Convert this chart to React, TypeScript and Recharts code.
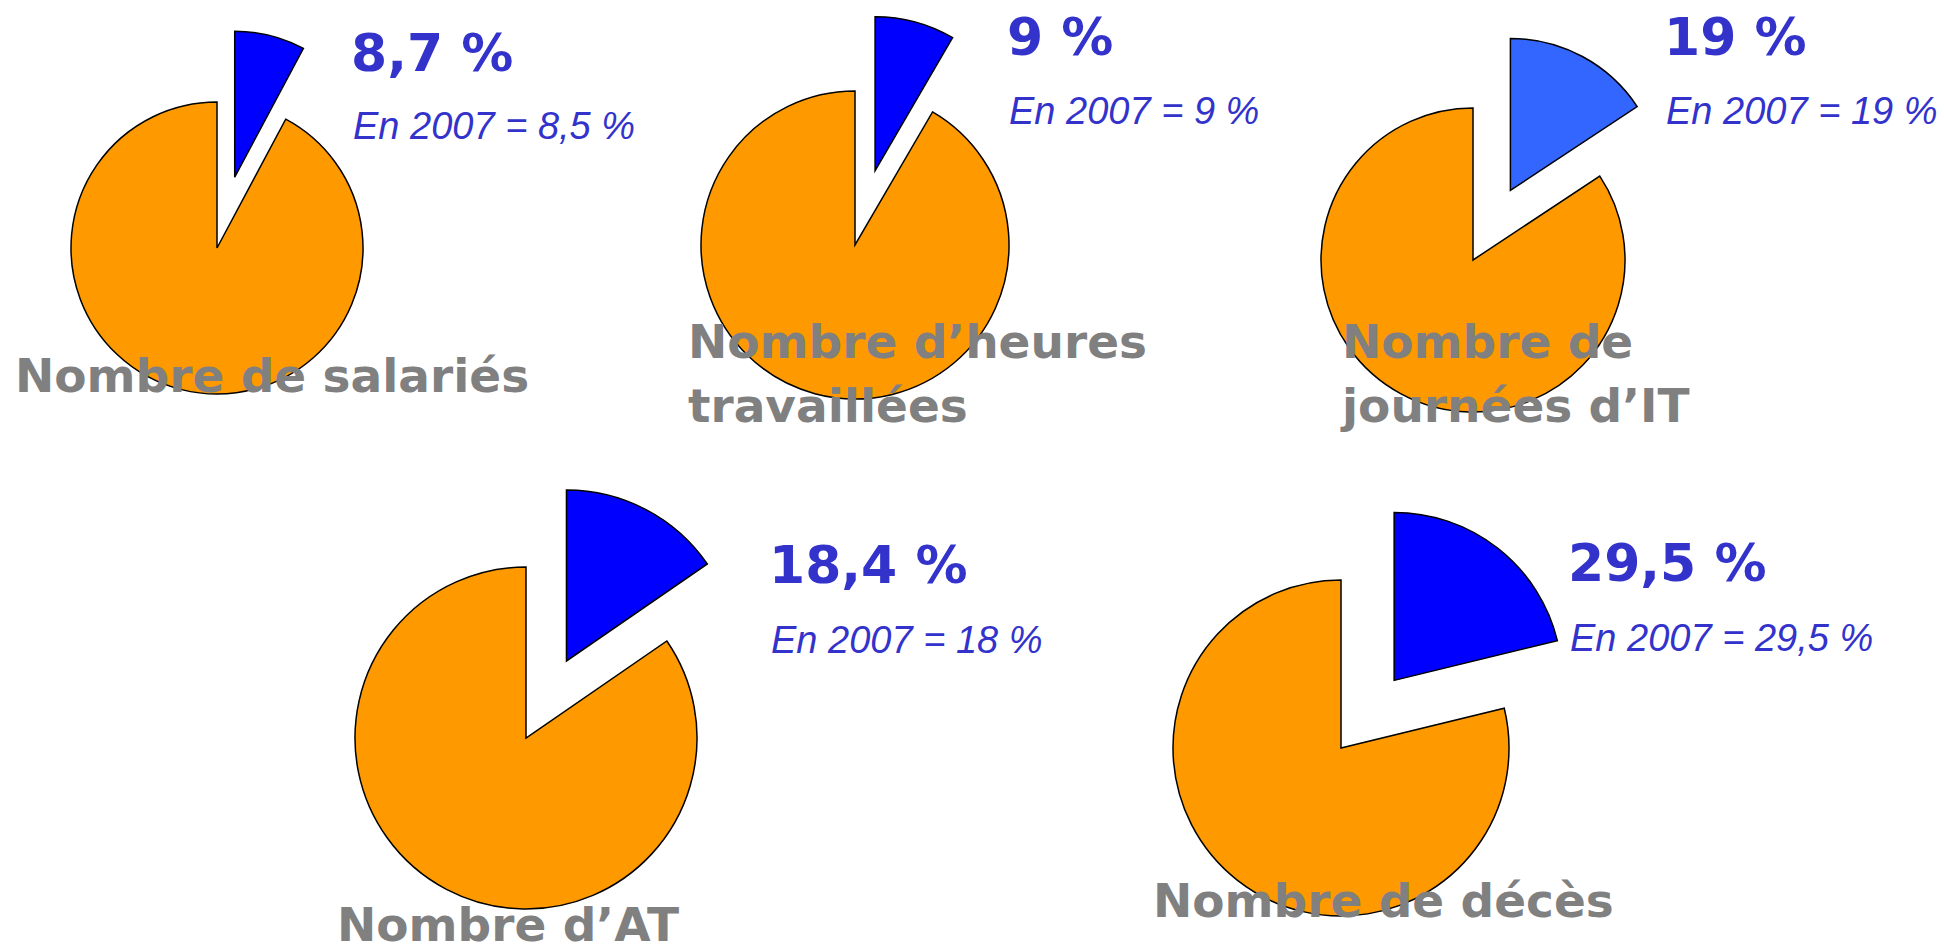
import React from 'react';
import { PieChart, Pie, Cell } from 'recharts';

// share of the blue slice as drawn in each pie (the rest is orange)
const sliceShare = [7.8, 8.4, 15.7, 15.4, 21.2];
const currentRate = ['8,7 %', '9 %', '19 %', '18,4 %', '29,5 %'];
const rate2007 = ['En 2007 = 8,5 %', 'En 2007 = 9 %', 'En 2007 = 19 %', 'En 2007 = 18 %', 'En 2007 = 29,5 %'];
const categoryLines = [
  ['Nombre de salariés'],
  ['Nombre d’heures', 'travaillées'],
  ['Nombre de', 'journées d’IT'],
  ['Nombre d’AT'],
  ['Nombre de décès'],
];
const sliceColors = ['#0000FF', '#0000FF', '#3366FF', '#0000FF', '#0000FF'];

const ORANGE = '#FF9900';
const TEXT_BLUE = '#3333CC';
const GRAY = '#808080';

// where each pie and its texts sit on the page
const layout = [
  { cx: 217, cy: 248, r: 146, pull: 73, tx: 351, rateY: 71, subY: 139, nameX: 15, nameY: [392] },
  { cx: 855, cy: 245, r: 154, pull: 77, tx: 1007, rateY: 55, subY: 124, nameX: 688, nameY: [358, 422] },
  { cx: 1473, cy: 260, r: 152, pull: 79, tx: 1664, rateY: 55, subY: 124, nameX: 1342, nameY: [358, 422] },
  { cx: 526, cy: 738, r: 171, pull: 87, tx: 769, rateY: 583, subY: 653, nameX: 337, nameY: [941] },
  { cx: 1341, cy: 748, r: 168, pull: 86, tx: 1568, rateY: 581, subY: 651, nameX: 1153, nameY: [917] },
];

const W = 1944;
const H = 951;

export default function App() {
  return (
    <div style={{ position: 'absolute', left: 0, top: 0, width: W, height: H, background: '#fff' }}>
      <PieChart width={W} height={H} margin={{ top: 0, right: 0, bottom: 0, left: 0 }}>
        {sliceShare.map((share, i) => {
          const p = layout[i];
          const data = [
            { name: 'part', value: share },
            { name: 'reste', value: 100 - share },
          ];
          const mid = ((90 - share * 1.8) * Math.PI) / 180;
          const bx = p.cx + p.pull * Math.cos(mid);
          const by = p.cy - p.pull * Math.sin(mid);
          return [
            <Pie
              key={'o' + i}
              data={data}
              dataKey="value"
              cx={p.cx}
              cy={p.cy}
              outerRadius={p.r}
              startAngle={90}
              endAngle={-270}
              labelLine={false}
              isAnimationActive={false}
            >
              <Cell fill="none" stroke="none" />
              <Cell fill={ORANGE} stroke="#000" strokeWidth={1.5} />
            </Pie>,
            <Pie
              key={'b' + i}
              data={data}
              dataKey="value"
              cx={bx}
              cy={by}
              outerRadius={p.r}
              startAngle={90}
              endAngle={-270}
              labelLine={false}
              isAnimationActive={false}
            >
              <Cell fill={sliceColors[i]} stroke="#000" strokeWidth={1.5} />
              <Cell fill="none" stroke="none" />
            </Pie>,
          ];
        })}
      </PieChart>
      <svg
        width={W}
        height={H}
        style={{ position: 'absolute', left: 0, top: 0, pointerEvents: 'none' }}
      >
        {layout.map((p, i) => (
          <g key={i}>
            <text x={p.tx} y={p.rateY} fill={TEXT_BLUE} fontFamily="DejaVu Sans" fontWeight="bold" fontSize={52}>
              {currentRate[i]}
            </text>
            <text x={p.tx + 2} y={p.subY} fill={TEXT_BLUE} fontFamily="Liberation Sans" fontStyle="italic" fontSize={38}>
              {rate2007[i]}
            </text>
            {categoryLines[i].map((line, j) => (
              <text key={j} x={p.nameX} y={p.nameY[j]} fill={GRAY} fontFamily="DejaVu Sans" fontWeight="bold" fontSize={47}>
                {line}
              </text>
            ))}
          </g>
        ))}
      </svg>
    </div>
  );
}
